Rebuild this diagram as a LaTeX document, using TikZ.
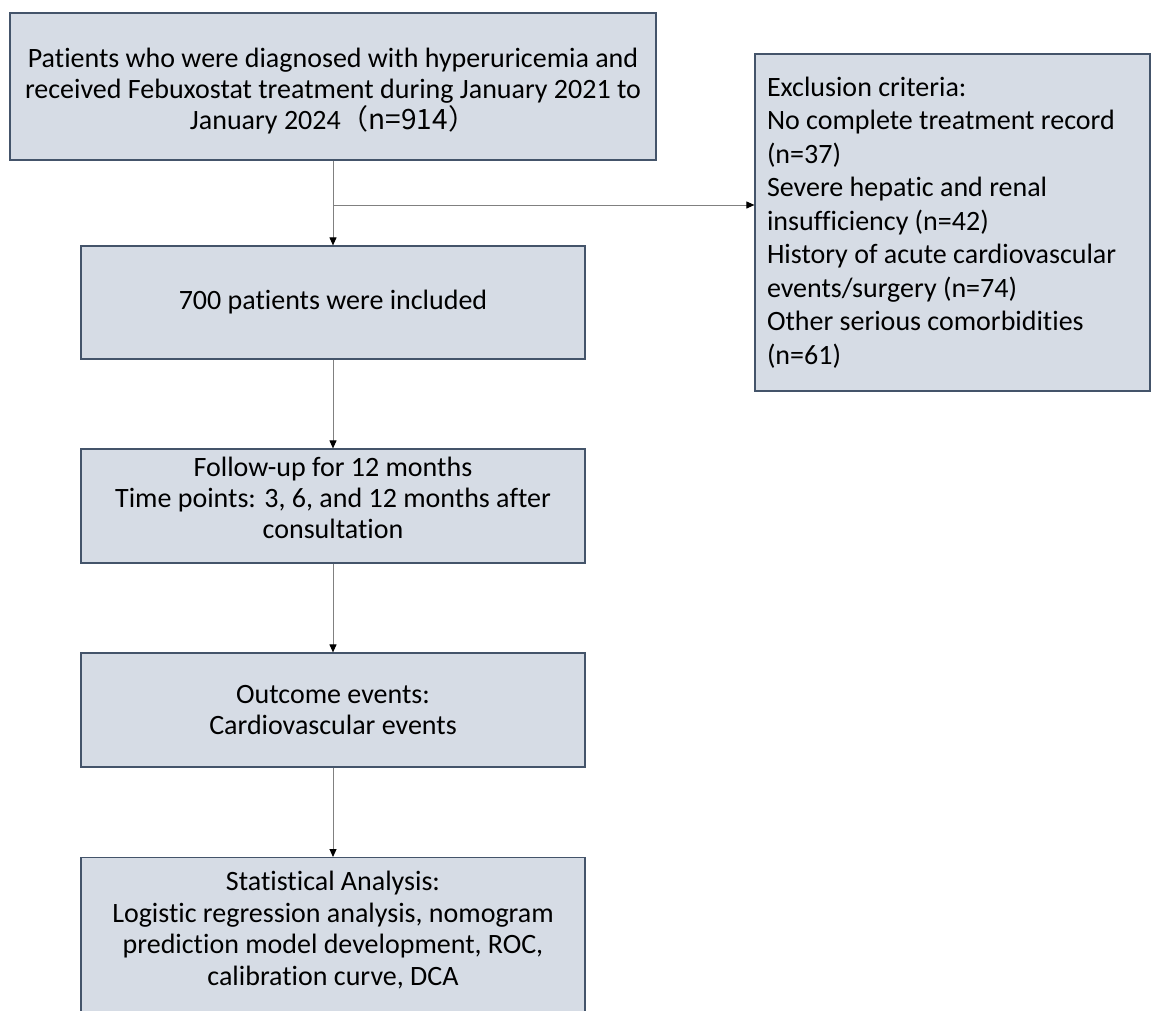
\documentclass[tikz,border=0pt]{standalone}
\usepackage{fontspec}
\setmainfont{Carlito}[Ligatures=NoCommon]
\newfontfamily\cjk{Noto Sans CJK SC}
\usetikzlibrary{arrows.meta}
\definecolor{boxfill}{HTML}{D6DCE5}
\definecolor{boxline}{HTML}{44546A}
\definecolor{conline}{HTML}{808080}
\begin{document}
\begin{tikzpicture}[x=1pt,y=-1pt,
  box/.style={draw=boxline, line width=1.2pt, fill=boxfill, inner sep=0pt, align=center, font=\fontsize{28}{31}\selectfont},
  con/.style={draw=conline, line width=1pt, -{Triangle[length=8pt,width=7pt,color=black]}}]
\clip (0,0) rectangle (1151,1010);
\node[box, minimum width=646pt, minimum height=147pt] (box0) at (333,86.5){Patients who were diagnosed with hyperuricemia and\\received Febuxostat treatment during January 2021 to\\January 2024\cjk{（}n=914\cjk{）}\\[-36pt]};
\node[box, minimum width=504pt, minimum height=113pt] (box1) at (333,302.5){700 patients were included};
\node[box, minimum width=504pt, minimum height=114pt] (box2) at (333,506){Follow-up for 12 months\\Time points: 3, 6, and 12 months after\\consultation\\[-14pt]};
\node[box, minimum width=504pt, minimum height=114pt] (box3) at (333,710){Outcome events:\\Cardiovascular events};
\node[box, minimum width=504pt, minimum height=200pt, anchor=north] (box4) at (333,857){};
\node[align=center, font=\fontsize{28}{31.5}\selectfont, anchor=north] (stat) at (333,868){Statistical Analysis:\\Logistic regression analysis, nomogram\\prediction model development, ROC,\\calibration curve, DCA};
\node[box, align=flush left, minimum width=395pt, minimum height=337pt, text width=371pt, font=\fontsize{28}{33.5}\selectfont] (excl) at (952.5,222.5){Exclusion criteria:\\No complete treatment record\\(n=37)\\Severe hepatic and renal\\insufficiency (n=42)\\History of acute cardiovascular\\events/surgery (n=74)\\Other serious comorbidities\\(n=61)};
\coordinate (split) at (333,205);
\draw[draw=conline, line width=1pt] (box0.south) -- (split);
\draw[con] (split) -- (box1.north);
\draw[con] (split) -- (split -| excl.west);
\draw[con] (box1) -- (box2);
\draw[con] (box2) -- (box3);
\draw[con] (box3) -- (box4);
\end{tikzpicture}
\end{document}
